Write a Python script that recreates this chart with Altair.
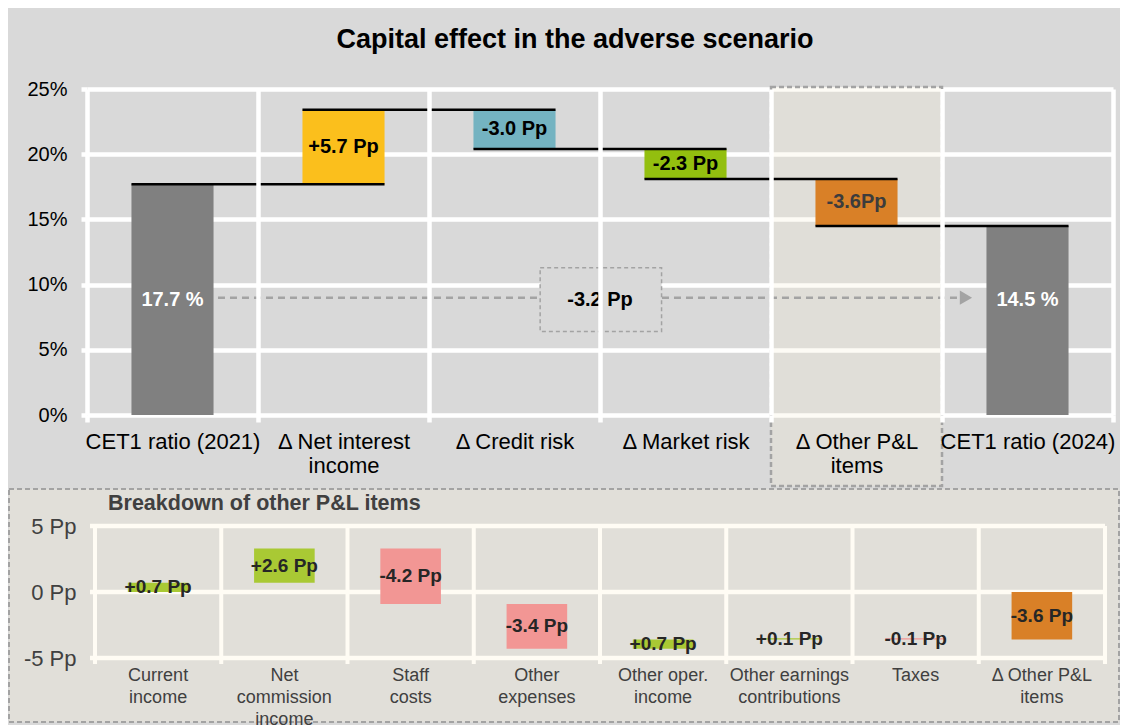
import altair as alt
import pandas as pd

FONT = "Liberation Sans"

# ---------------- data ----------------
top_categories = ["CET1 ratio (2021)", "Δ Net interest|income", "Δ Credit risk",
                  "Δ Market risk", "Δ Other P&L|items", "CET1 ratio (2024)"]
top_values = [17.7, 5.7, -3.0, -2.3, -3.6, 14.5]
top_kinds = ["total", "delta", "delta", "delta", "delta", "total"]
top_labels = ["17.7 %", "+5.7 Pp", "-3.0 Pp", "-2.3 Pp", "-3.6Pp", "14.5 %"]
top_colors = ["#808080", "#FBBF1C", "#74B3C1", "#93BF0F", "#D98027", "#808080"]
top_label_colors = ["#FFFFFF", "#000000", "#000000", "#000000", "#3C3C3C", "#FFFFFF"]
y_ticks_top = [0, 5, 10, 15, 20, 25]
total_change_label = "-3.2 Pp"
highlight_category = "Δ Other P&L|items"

bottom_categories = ["Current|income", "Net|commission|income", "Staff|costs", "Other|expenses",
                     "Other oper.|income", "Other earnings|contributions", "Taxes", "Δ Other P&L|items"]
bottom_values = [0.7, 2.6, -4.2, -3.4, 0.7, 0.1, -0.1, -3.6]
bottom_kinds = ["delta", "delta", "delta", "delta", "delta", "delta", "delta", "total"]
bottom_labels = ["+0.7 Pp", "+2.6 Pp", "-4.2 Pp", "-3.4 Pp", "+0.7 Pp", "+0.1 Pp", "-0.1 Pp", "-3.6 Pp"]
bottom_colors = ["#A9C934", "#A9C934", "#F29694", "#F29694", "#A9C934", "#A9C934", "#F29694", "#D98027"]
y_ticks_bottom = [-5, 0, 5]

# annotation levels (layout)
TOTAL_LABEL_Y = 8.8
ARROW_Y = 9.0
BOX_Y0, BOX_Y1 = 11.3, 6.4

CREAM = "#FFFCF4"
PANEL = "#E1DFD9"
BG = "#D9D9D9"
DASH = "#A3A3A3"


def waterfall(values, kinds):
    starts, ends = [], []
    level = 0.0
    for v, k in zip(values, kinds):
        if k == "total":
            starts.append(0.0)
            ends.append(v)
            level = v
        else:
            starts.append(round(level, 3))
            level = round(level + v, 3)
            ends.append(level)
    return starts, ends


t_start, t_end = waterfall(top_values, top_kinds)
df_top = pd.DataFrame({
    "cat": top_categories, "start": t_start, "end": t_end, "label": top_labels,
    "color": top_colors, "lcolor": top_label_colors,
    "ly": [TOTAL_LABEL_Y if k == "total" else (s + e) / 2 for k, s, e in zip(top_kinds, t_start, t_end)],
})
df_conn = pd.DataFrame({
    "c0": top_categories[:-1], "c1": top_categories[1:], "level": t_end[:-1],
})

b_start, b_end = waterfall(bottom_values, bottom_kinds)
df_bot = pd.DataFrame({
    "cat": bottom_categories, "start": b_start, "end": b_end, "label": bottom_labels,
    "color": bottom_colors, "ly": [(s + e) / 2 for s, e in zip(b_start, b_end)],
})

one = pd.DataFrame({"a": [0]})

# ---------------- top chart ----------------
X_TOP_SCALE = alt.Scale(domain=top_categories, paddingInner=0, paddingOuter=0)
x_axis_top = alt.Axis(title=None, labelAngle=0, grid=True, gridColor="white", gridWidth=4.5,
                      tickBand="extent", ticks=True, tickColor="white", tickWidth=4.5, tickSize=7,
                      domain=False, labelFont=FONT, labelFontSize=22, labelColor="black",
                      labelPadding=9, labelLineHeight=24, labelExpr="split(datum.label, '|')")
Y_TOP_SCALE = alt.Scale(domain=[0, 25], nice=False)
y_axis_top = alt.Axis(title=None, values=y_ticks_top, labelExpr="datum.value + '%'", grid=True,
                      gridColor="white", gridWidth=4.5, ticks=True, tickColor="white", tickWidth=4.5,
                      tickSize=6, domain=False, labelFont=FONT, labelFontSize=20, labelColor="black",
                      labelPadding=14)


def xt(field="cat", bp=None):
    kw = dict(type="nominal", scale=X_TOP_SCALE, axis=x_axis_top)
    if bp is not None:
        kw["bandPosition"] = bp
    return alt.X(field, **kw)


def yt(field):
    return alt.Y(field, type="quantitative", scale=Y_TOP_SCALE, axis=y_axis_top)


# invisible rect that fixes the extent of the upper panel
top_bounds = alt.Chart(one).mark_rect(fill=BG, opacity=0).encode(
    x=alt.value(-79), x2=alt.value(1033), y=alt.value(-81), y2=alt.value(398))

highlight = alt.Chart(pd.DataFrame({"cat": [highlight_category]})).mark_rect(
    fill="#F9F1D9", fillOpacity=0.25, stroke=DASH, strokeDash=[5, 3], strokeWidth=2.5
).encode(x=xt(), y=alt.value(-2), y2=alt.value(397))

arrow_df = pd.DataFrame({"c0": [top_categories[0]], "c1": [top_categories[-1]], "y": [ARROW_Y]})
arrow_line = alt.Chart(arrow_df).mark_rule(color=DASH, strokeDash=[7, 5], strokeWidth=2.5).encode(
    x=xt("c0", 0.766), x2=alt.X2("c1", bandPosition=0.09), y=yt("y"))
arrow_head = alt.Chart(arrow_df).mark_point(shape="triangle-right", filled=True, size=200,
                                             color=DASH, opacity=1).encode(
    x=xt("c1", 0.14), y=yt("y"))

box_df = pd.DataFrame({"c0": [top_categories[2]], "c1": [top_categories[3]],
                       "y0": [BOX_Y0], "y1": [BOX_Y1], "ly": [TOTAL_LABEL_Y],
                       "label": [total_change_label]})
box = alt.Chart(box_df).mark_rect(fill=BG, stroke=DASH, strokeDash=[4, 3], strokeWidth=1.5).encode(
    x=xt("c0", 0.65), x2=alt.X2("c1", bandPosition=0.36), y=yt("y0"), y2="y1")
box_text = alt.Chart(box_df).mark_text(font=FONT, fontSize=20, fontWeight="bold", color="black").encode(
    x=xt("c1", 0.0), y=yt("ly"), text="label")

bars_top = alt.Chart(df_top).mark_bar(width={"band": 0.48}).encode(
    x=xt(), y=yt("start"), y2="end", color=alt.Color("color:N", scale=None))
conn = alt.Chart(df_conn).mark_rule(color="black", strokeWidth=2.5).encode(
    x=xt("c0", 0.26), x2=alt.X2("c1", bandPosition=0.74), y=yt("level"))
labels_top = alt.Chart(df_top).mark_text(font=FONT, fontSize=20, fontWeight="bold").encode(
    x=xt(), y=yt("ly"), text="label", color=alt.Color("lcolor:N", scale=None))
title_top = alt.Chart(one).mark_text(text="Capital effect in the adverse scenario", font=FONT,
                                     fontSize=27, fontWeight="bold", color="black").encode(
    x=alt.value(488), y=alt.value(-49))

top = alt.layer(top_bounds, highlight, arrow_line, arrow_head, box, box_text, bars_top, conn,
                labels_top, title_top).properties(width=1026, height=326)

# ---------------- bottom chart ----------------
X_BOT_SCALE = alt.Scale(domain=bottom_categories, paddingInner=0, paddingOuter=0.0634)
x_axis_bot = alt.Axis(title=None, labelAngle=0, grid=False, ticks=False, domain=False,
                      labelFont=FONT, labelFontSize=18, labelColor="#404040",
                      labelPadding=8, labelLineHeight=22, labelExpr="split(datum.label, '|')",
                      zindex=1)
Y_BOT_SCALE = alt.Scale(domain=[-5, 5], nice=False, zero=False)
y_axis_bot = alt.Axis(title=None, values=y_ticks_bottom, labelExpr="datum.value + ' Pp'", grid=False,
                      ticks=False, domain=False, labelFont=FONT, labelFontSize=22, labelColor="#404040",
                      labelPadding=11, zindex=1)


def xb(field="cat", bp=None):
    kw = dict(type="nominal", scale=X_BOT_SCALE, axis=x_axis_bot)
    if bp is not None:
        kw["bandPosition"] = bp
    return alt.X(field, **kw)


def yb(field):
    return alt.Y(field, type="quantitative", scale=Y_BOT_SCALE, axis=y_axis_bot)


panel = alt.Chart(one).mark_rect(fill=PANEL, stroke=DASH, strokeDash=[5, 3], strokeWidth=2).encode(
    x=alt.value(-78), x2=alt.value(1032), y=alt.value(-37), y2=alt.value(196))
hgrid = alt.Chart(pd.DataFrame({"v": y_ticks_bottom})).mark_rule(color=CREAM, strokeWidth=4.5).encode(
    y=yb("v"), x=alt.value(3), x2=alt.value(1018))
vgrid = alt.Chart(pd.DataFrame({"cat": bottom_categories})).mark_rule(color=CREAM, strokeWidth=4).encode(
    x=xb("cat", 0.0), y=alt.value(0), y2=alt.value(138))
vgrid_end = alt.Chart(pd.DataFrame({"cat": bottom_categories[-1:]})).mark_rule(color=CREAM, strokeWidth=4).encode(
    x=xb("cat", 1.0), y=alt.value(0), y2=alt.value(138))
bars_bot = alt.Chart(df_bot).mark_bar(width={"band": 0.48}).encode(
    x=xb(), y=yb("start"), y2="end", color=alt.Color("color:N", scale=None))
labels_bot = alt.Chart(df_bot).mark_text(font=FONT, fontSize=19, fontWeight="bold",
                                         color="#262626").encode(x=xb(), y=yb("ly"), text="label")
title_bot = alt.Chart(one).mark_text(text="Breakdown of other P&L items", font=FONT, fontSize=21.5,
                                     fontWeight="bold", color="#404040", align="left").encode(
    x=alt.value(21), y=alt.value(-22))

bottom = alt.layer(panel, hgrid, vgrid, vgrid_end, bars_bot, labels_bot, title_bot).properties(
    width=1026, height=132)

chart = alt.vconcat(top, bottom, spacing=0).properties(
    background=BG, padding=0
).configure_view(strokeWidth=0)

chart.save("out.html", embed_options={"renderer": "svg", "actions": False})
